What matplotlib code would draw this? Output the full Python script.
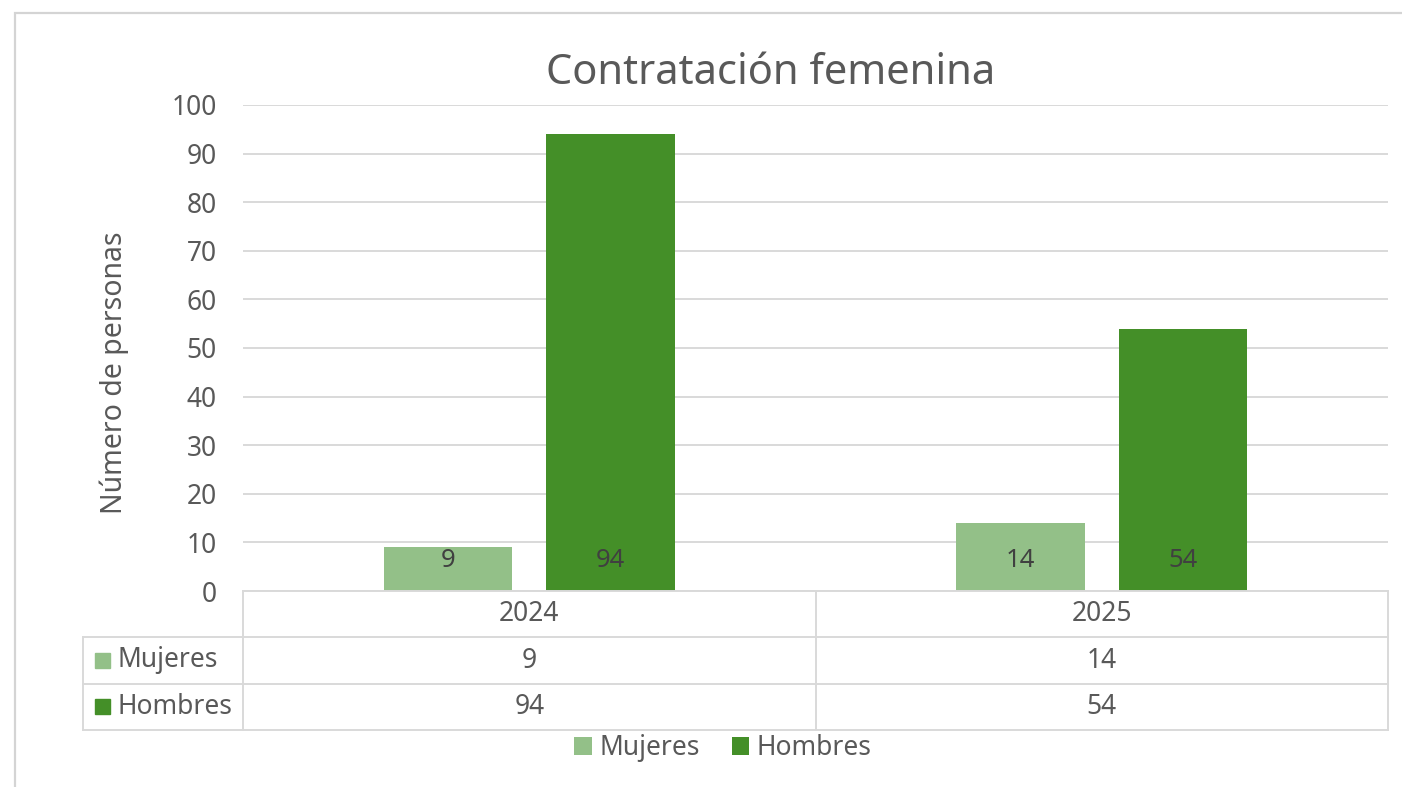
import matplotlib.pyplot as plt
from matplotlib.lines import Line2D
from matplotlib.patches import Rectangle
from matplotlib.transforms import blended_transform_factory

years = ["2024", "2025"]
series = ["Mujeres", "Hombres"]
mujeres = [9, 14]
hombres = [94, 54]
colors = ["#93C088", "#448F28"]

W, H = 1402, 787
TEXT = "#595959"
GRID = "#D9D9D9"
FS = 19


def fx(px):
    return px / W


def fy(py):
    return 1 - py / H


plt.rcParams["font.family"] = ["Noto Sans", "DejaVu Sans"]
fig = plt.figure(figsize=(W / 100, H / 100), dpi=100)
ax = fig.add_axes([fx(243), fy(591), fx(1388) - fx(243), fy(105) - fy(591)])

# outer frame (cut off on the right and bottom)
fig.patches.append(Rectangle((fx(15), -0.1), 1.2, fy(13) + 0.1, transform=fig.transFigure,
                             fill=False, ec="#D4D4D4", lw=1.6))

off, bw = 0.142, 0.224
for i, (name, vals) in enumerate(zip(series, [mujeres, hombres])):
    xs = [k + (2 * i - 1) * off for k in range(len(years))]
    ax.bar(xs, vals, bw, color=colors[i], label=name, zorder=2)
    for xv, v in zip(xs, vals):
        ax.annotate(str(v), (xv, 0), xytext=(0, 22), textcoords="offset points",
                    ha="center", va="center", fontsize=18.5, color="#404040", zorder=3)

ax.set_xlim(-0.5, len(years) - 0.5)
ax.set_ylim(0, 100)
ax.set_yticks(range(0, 101, 10))
ax.set_xticks([])
ax.yaxis.grid(True, color=GRID, lw=1.4, zorder=0)
ax.tick_params(axis="y", length=0, pad=19, labelsize=FS, labelcolor=TEXT)
for s in ax.spines.values():
    s.set_visible(False)
ax.set_ylabel("Número de personas", fontsize=20.5, color=TEXT)
ax.yaxis.set_label_coords(-0.100, 0.45)

fig.text(fx(771), fy(73), "Contratación femenina", ha="center", va="center",
         fontsize=30, color=TEXT)

# data table under the plot
bt = blended_transform_factory(ax.transData, fig.transFigure)
ft = fig.transFigure
row_y = [591, 637, 684, 730]
lc = GRID
lw = 1.4
fig.add_artist(Line2D([fx(243), fx(1388)], [fy(591)] * 2, transform=ft, color=lc, lw=lw))
for y in row_y[1:]:
    fig.add_artist(Line2D([fx(83), fx(1388)], [fy(y)] * 2, transform=ft, color=lc, lw=lw))
for k in range(len(years) + 1):
    xb = k - 0.5
    fig.add_artist(Line2D([xb, xb], [fy(591), fy(730)], transform=bt, color=lc, lw=lw))
fig.add_artist(Line2D([fx(83), fx(83)], [fy(637), fy(730)], transform=ft, color=lc, lw=lw))

for k, yr in enumerate(years):
    fig.text(k, fy(614), yr, transform=bt, ha="center", va="center", fontsize=FS, color=TEXT)
for r, (name, vals) in enumerate(zip(series, [mujeres, hombres])):
    yc = (row_y[r + 1] + row_y[r + 2]) / 2
    fig.patches.append(Rectangle((fx(95), fy(yc + 7)), fx(15), 15 / H, transform=ft,
                                 color=colors[r]))
    fig.text(fx(117), fy(yc), name, ha="left", va="center", fontsize=FS, color=TEXT)
    for k, v in enumerate(vals):
        fig.text(k, fy(yc), str(v), transform=bt, ha="center", va="center",
                 fontsize=FS, color=TEXT)

fig.legend(loc="center", bbox_to_anchor=(fx(723), fy(748)), ncol=2, frameon=False,
           fontsize=FS, labelcolor=TEXT, handlelength=0.65, handleheight=0.65,
           handletextpad=0.3, columnspacing=1.2)

fig.savefig("out.png", dpi=100)
